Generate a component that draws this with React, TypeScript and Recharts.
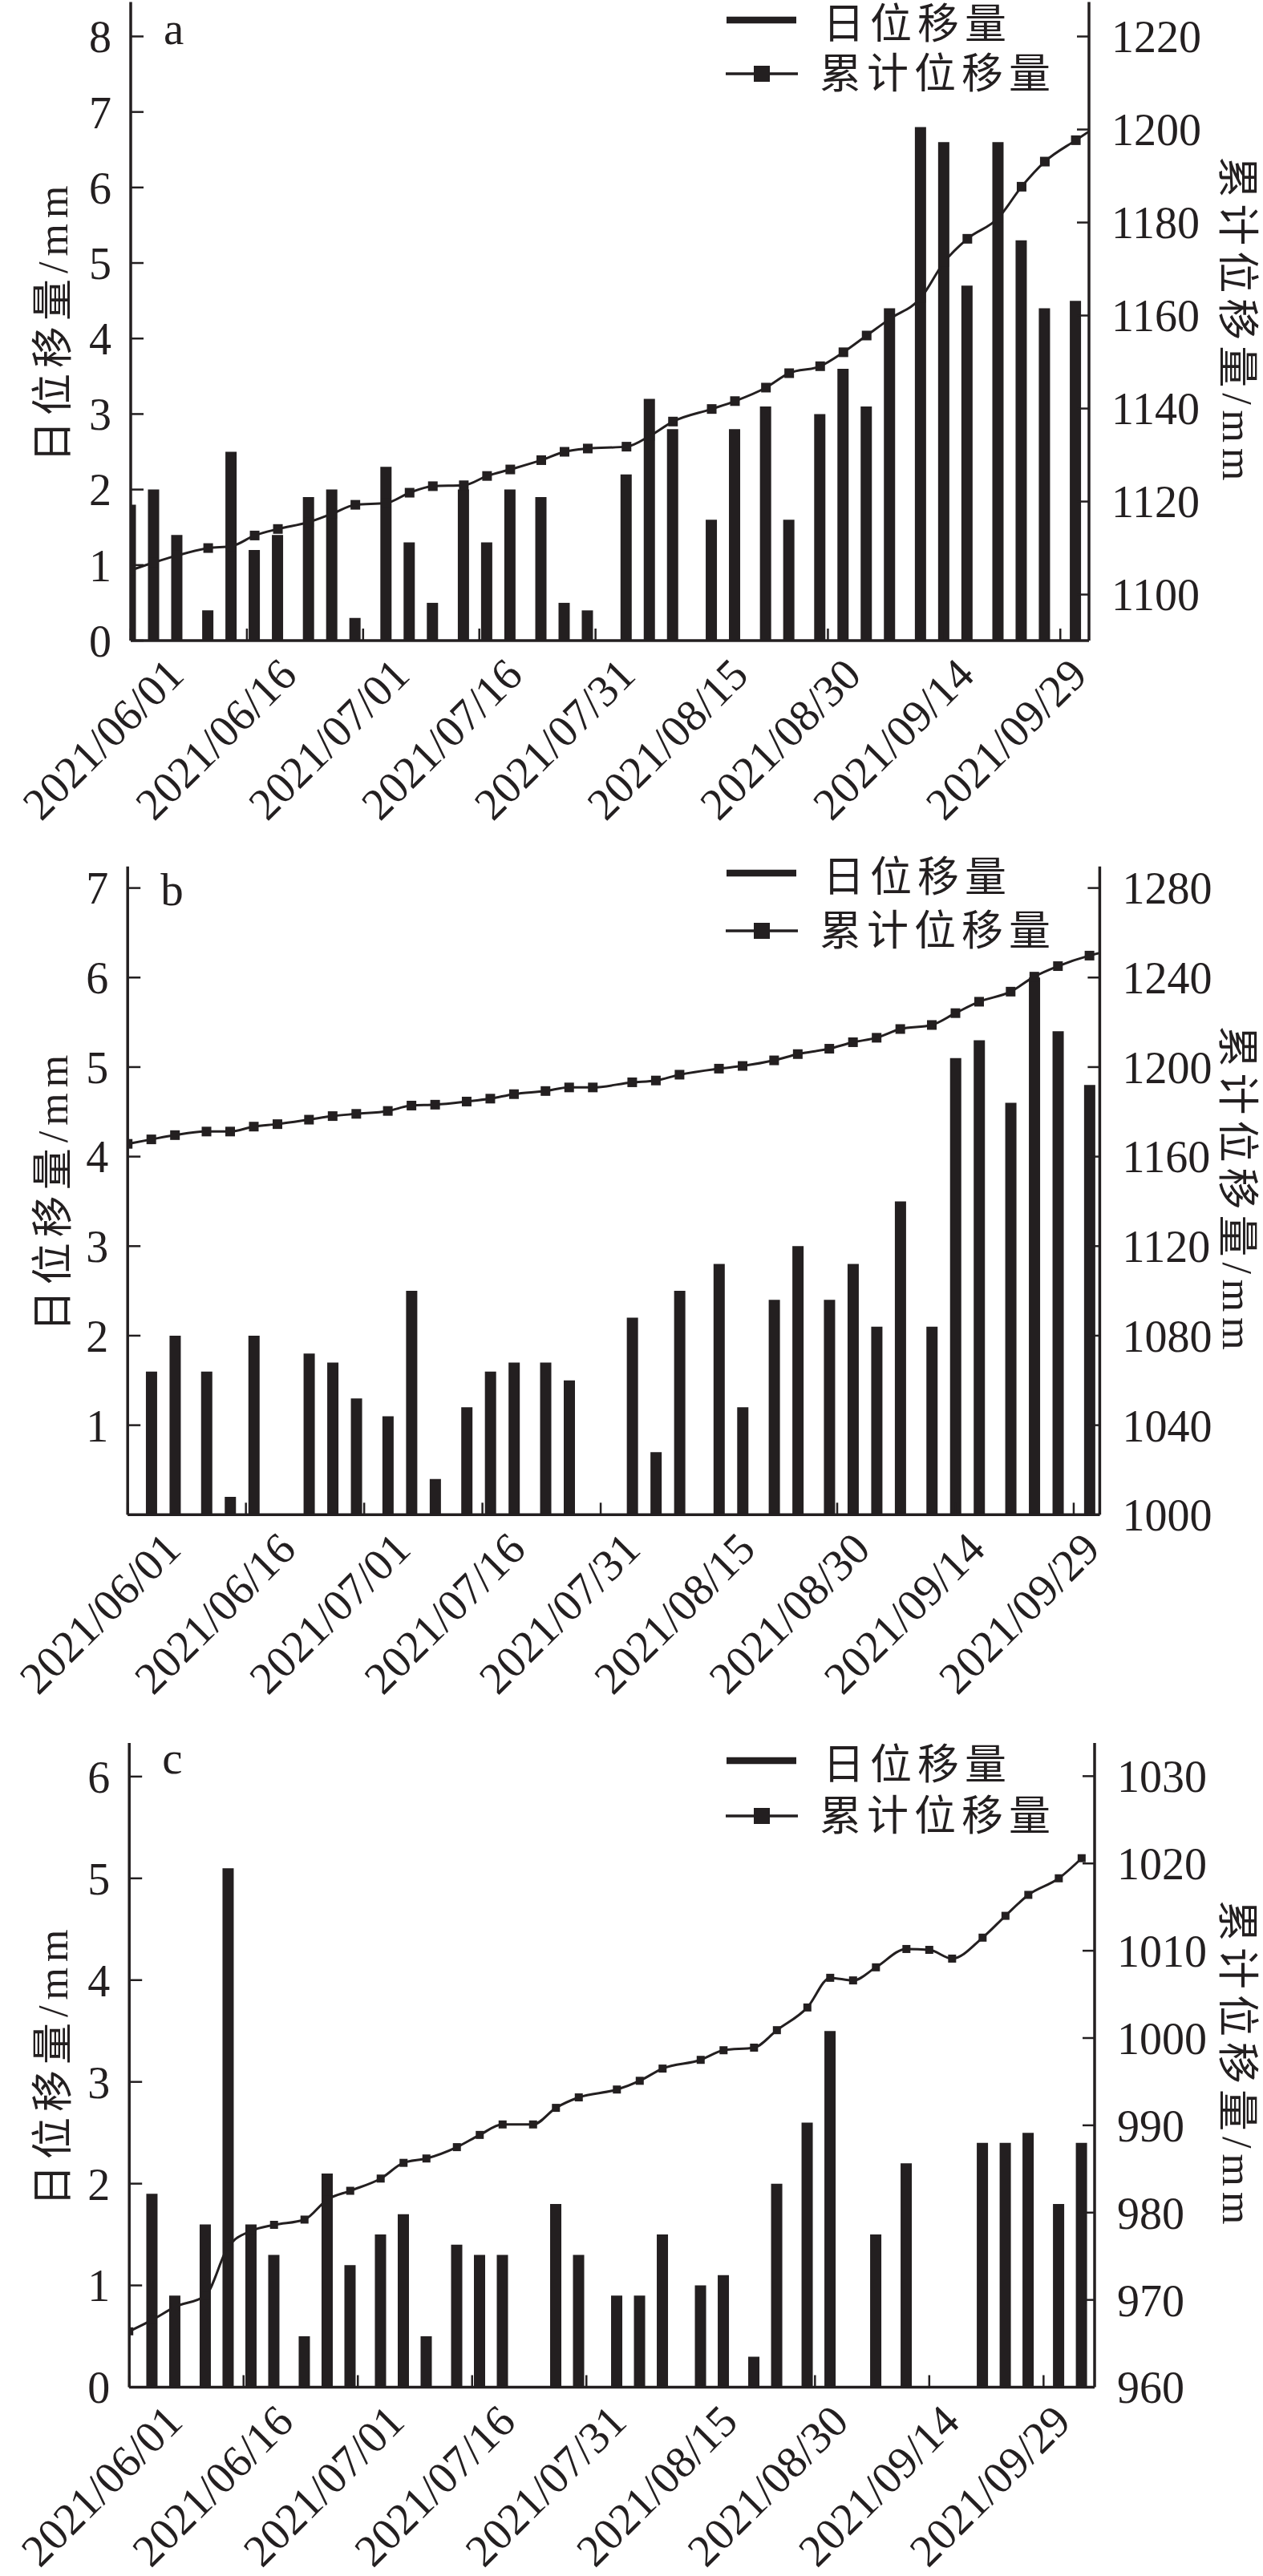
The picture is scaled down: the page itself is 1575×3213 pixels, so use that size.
import React from 'react';
import { ComposedChart, Bar, Line, XAxis, YAxis, Legend } from 'recharts';

const INK = '#231f20';
const SERIF = "'Liberation Serif', 'Noto Sans CJK SC', serif";

// sampling days counted from 2021/06/01
const sampleDays = [0, 3, 6, 10, 13, 16, 19, 23, 26, 29, 33, 36, 39, 43, 46, 49, 53, 56, 59, 64, 67, 70, 75, 78, 82, 85, 89, 92, 95, 98, 102, 105, 108, 112, 115, 118, 122, 125];
const tickDays = [0, 15, 30, 45, 60, 75, 90, 105, 120];
const tickDates = ['2021/06/01', '2021/06/16', '2021/07/01', '2021/07/16', '2021/07/31', '2021/08/15', '2021/08/30', '2021/09/14', '2021/09/29'];

const dailyA = [1.8, 2.0, 1.4, 0.4, 2.5, 1.2, 1.4, 1.9, 2.0, 0.3, 2.3, 1.3, 0.5, 2.0, 1.3, 2.0, 1.9, 0.5, 0.4, 2.2, 3.2, 2.8, 1.6, 2.8, 3.1, 1.6, 3.0, 3.6, 3.1, 4.4, 6.8, 6.6, 4.7, 6.6, 5.3, 4.4, 4.5, null];
const cumA = [1105.2, 1106.9, 1108.4, 1110.0, 1110.4, 1112.7, 1114.1, 1115.6, 1117.4, 1119.3, 1119.7, 1121.9, 1123.3, 1123.5, 1125.5, 1126.9, 1128.9, 1130.7, 1131.4, 1131.8, 1134.1, 1137.2, 1139.9, 1141.6, 1144.5, 1147.6, 1149.1, 1152.1, 1155.7, 1159.3, 1163.8, 1171.5, 1176.5, 1181.0, 1187.7, 1193.1, 1197.7, 1201.0];

const dailyB = [0, 1.6, 2.0, 1.6, 0.2, 2.0, 0, 1.8, 1.7, 1.3, 1.1, 2.5, 0.4, 1.2, 1.6, 1.7, 1.7, 1.5, 0, 2.2, 0.7, 2.5, 2.8, 1.2, 2.4, 3.0, 2.4, 2.8, 2.1, 3.5, 2.1, 5.1, 5.3, 4.6, 6.0, 5.4, 4.8, null];
const cumB = [1165.7, 1167.7, 1169.6, 1171.2, 1171.2, 1173.4, 1174.5, 1176.5, 1178.1, 1179.1, 1180.4, 1182.8, 1183.2, 1184.6, 1185.9, 1187.9, 1189.3, 1190.9, 1190.9, 1193.2, 1194.0, 1196.6, 1199.3, 1200.5, 1203.0, 1205.8, 1208.2, 1211.1, 1213.1, 1217.0, 1218.8, 1224.1, 1229.2, 1233.7, 1240.4, 1245.1, 1249.8, 1252.3];

const dailyC = [0, 1.9, 0.9, 1.6, 5.1, 1.6, 1.3, 0.5, 2.1, 1.2, 1.5, 1.7, 0.5, 1.4, 1.3, 1.3, 0, 1.8, 1.3, 0.9, 0.9, 1.5, 1.0, 1.1, 0.3, 2.0, 2.6, 3.5, 0, 1.5, 2.2, 0, 0, 2.4, 2.4, 2.5, 1.8, 2.4];
const cumC = [966.4, 967.7, 969.2, 970.5, 976.1, 977.9, 978.6, 979.2, 981.5, 982.5, 983.9, 985.7, 986.2, 987.5, 988.9, 990.1, 990.1, 992.0, 993.2, 994.1, 995.1, 996.5, 997.5, 998.6, 998.9, 1000.9, 1003.5, 1006.9, 1006.6, 1008.1, 1010.2, 1010.1, 1009.1, 1011.5, 1014.0, 1016.4, 1018.3, 1020.6];

const leftTicksA = [0, 1, 2, 3, 4, 5, 6, 7, 8];
const rightTicksA = [1100, 1120, 1140, 1160, 1180, 1200, 1220];
const leftTicksB = [1, 2, 3, 4, 5, 6, 7];
const rightTicksB = [1000, 1040, 1080, 1120, 1160, 1200, 1240, 1280];
const leftTicksC = [0, 1, 2, 3, 4, 5, 6];
const rightTicksC = [960, 970, 980, 990, 1000, 1010, 1020, 1030];

const LEGEND_DAILY = '日位移量';
const LEGEND_CUM = '累计位移量';
const LEFT_TITLE = '日位移量/mm';
const RIGHT_TITLE = '累计位移量/mm';

type PanelCfg = {
  letter: string;
  top: number;
  height: number;
  plotTop: number;
  plotBottom: number;
  left: number;
  right: number;
  xMax: number;
  leftMax: number;
  rightDomain: [number, number];
  leftTicks: number[];
  rightTicks: number[];
  xAxisHeight: number;
  legendTop: number;
  legendGap: number;
  letterY: number;
  daily: (number | null)[];
  cum: number[];
  dotSize: number;
};

const panels: PanelCfg[] = [
  {
    letter: 'a', top: 0, height: 1060, plotTop: 2.6, plotBottom: 799, left: 163, right: 1358,
    xMax: 123.7, leftMax: 8.455, rightDomain: [1090.1, 1227.4], leftTicks: leftTicksA, rightTicks: rightTicksA,
    xAxisHeight: 240, legendTop: 0, legendGap: 67, letterY: 55, daily: dailyA, cum: cumA, dotSize: 12,
  },
  {
    letter: 'b', top: 1060, height: 1080, plotTop: 20.8, plotBottom: 829.3, left: 159.2, right: 1371.4,
    xMax: 123.3, leftMax: 7.24, rightDomain: [1000, 1289.6], leftTicks: leftTicksB, rightTicks: rightTicksB,
    xAxisHeight: 235, legendTop: 3.5, legendGap: 72, letterY: 68.6, daily: dailyB, cum: cumB, dotSize: 12,
  },
  {
    letter: 'c', top: 2140, height: 1073, plotTop: 34, plotBottom: 837.5, left: 161.2, right: 1365,
    xMax: 126.7, leftMax: 6.33, rightDomain: [960, 1033.8], leftTicks: leftTicksC, rightTicks: rightTicksC,
    xAxisHeight: 220, legendTop: 31, legendGap: 69, letterY: 72, daily: dailyC, cum: cumC, dotSize: 10,
  },
];

const makeXTick = (left: number) => (props: any) => {
  const { x, y, payload } = props;
  const i = tickDays.indexOf(payload.value);
  const label = i >= 0 ? tickDates[i] : '';
  const ax = left + 69 + (x - left) * 0.9715;
  return (
    <text x={ax} y={y} transform={`rotate(-45 ${ax} ${y})`} textAnchor="end" fontSize={56} fontFamily={SERIF} fill={INK}>
      {label}
    </text>
  );
};

const makeDot = (size: number) => (props: any) => {
  const { cx, cy, index, payload } = props;
  if (cx == null || cy == null || payload == null || payload.cum == null) return <g key={`e${index}`} />;
  return <rect key={`d${index}`} x={cx - size / 2} y={cy - size / 2} width={size} height={size} fill={INK} />;
};

const makeLegend = (gap: number) => () => (
  <svg width={470} height={140} style={{ display: 'block', overflow: 'visible' }}>
    <line x1={26} y1={25} x2={113} y2={25} stroke={INK} strokeWidth={8.5} />
    <text x={146} y={48} fontSize={52} letterSpacing={7} fontFamily={SERIF} fill={INK}>{LEGEND_DAILY}</text>
    <line x1={25} y1={25 + gap} x2={115} y2={25 + gap} stroke={INK} strokeWidth={3.5} />
    <rect x={60} y={15 + gap} width={20} height={20} fill={INK} />
    <text x={142} y={43 + gap} fontSize={52} letterSpacing={7} fontFamily={SERIF} fill={INK}>{LEGEND_CUM}</text>
  </svg>
);

function Panel({ cfg }: { cfg: PanelCfg }) {
  const data = sampleDays.map((d, i) => ({ day: d, daily: cfg.daily[i], cum: cfg.cum[i] }));
  const marginBottom = cfg.height - cfg.plotBottom - cfg.xAxisHeight;
  const midY = (cfg.plotTop + cfg.plotBottom) / 2;
  const leftLabel = () => (
    <g>
      <text transform={`translate(66 ${midY}) rotate(-90)`} textAnchor="middle" dominantBaseline="central"
        fontSize={52} letterSpacing={7} fontFamily={SERIF} fill={INK}>{LEFT_TITLE}</text>
      <text x={cfg.left + 41} y={cfg.letterY} fontSize={57} fontFamily={SERIF} fill={INK}>{cfg.letter}</text>
    </g>
  );
  const rightLabel = () => (
    <text transform={`translate(1542 ${midY}) rotate(90)`} textAnchor="middle" dominantBaseline="central"
      fontSize={52} letterSpacing={7} fontFamily={SERIF} fill={INK}>{RIGHT_TITLE}</text>
  );
  const tickStyle = { fontSize: 56, fontFamily: SERIF, fill: INK };
  return (
    <div style={{ position: 'absolute', left: 0, top: cfg.top, width: 1575, height: cfg.height }}>
      <ComposedChart
        width={1575}
        height={cfg.height}
        data={data}
        margin={{ top: cfg.plotTop, right: 0, bottom: marginBottom, left: 0 }}
      >
        <XAxis
          type="number"
          dataKey="day"
          domain={[0, cfg.xMax]}
          allowDataOverflow
          ticks={tickDays}
          interval={0}
          height={cfg.xAxisHeight}
          tickSize={-15}
          tickMargin={61}
          tick={makeXTick(cfg.left)}
          axisLine={{ stroke: INK, strokeWidth: 3.5 }}
          tickLine={{ stroke: INK, strokeWidth: 2.5 }}
        />
        <YAxis
          yAxisId="left"
          type="number"
          domain={[0, cfg.leftMax]}
          allowDataOverflow
          ticks={cfg.leftTicks}
          interval={0}
          width={cfg.left}
          tickSize={-16}
          tickMargin={40}
          tick={tickStyle}
          axisLine={{ stroke: INK, strokeWidth: 3.5 }}
          tickLine={{ stroke: INK, strokeWidth: 2.5 }}
          label={leftLabel}
        />
        <YAxis
          yAxisId="right"
          orientation="right"
          type="number"
          domain={cfg.rightDomain}
          allowDataOverflow
          ticks={cfg.rightTicks}
          interval={0}
          width={1575 - cfg.right}
          tickSize={-15}
          tickMargin={43}
          tick={tickStyle}
          axisLine={{ stroke: INK, strokeWidth: 3.5 }}
          tickLine={{ stroke: INK, strokeWidth: 2.5 }}
          label={rightLabel}
        />
        <Bar yAxisId="left" dataKey="daily" fill={INK} barSize={14} isAnimationActive={false} />
        <Line
          yAxisId="right"
          dataKey="cum"
          type="monotone"
          stroke={INK}
          strokeWidth={3}
          dot={makeDot(cfg.dotSize)}
          activeDot={false}
          isAnimationActive={false}
        />
        <Legend
          layout="vertical"
          align="center"
          verticalAlign="middle"
          content={makeLegend(cfg.legendGap)}
          wrapperStyle={{ position: 'absolute', left: 880, top: cfg.legendTop, width: 470, height: 140 }}
        />
      </ComposedChart>
    </div>
  );
}

export default function App() {
  return (
    <div style={{ position: 'absolute', left: 0, top: 0, width: 1575, height: 3213, background: '#ffffff' }}>
      {panels.map((p) => (
        <Panel key={p.letter} cfg={p} />
      ))}
    </div>
  );
}
